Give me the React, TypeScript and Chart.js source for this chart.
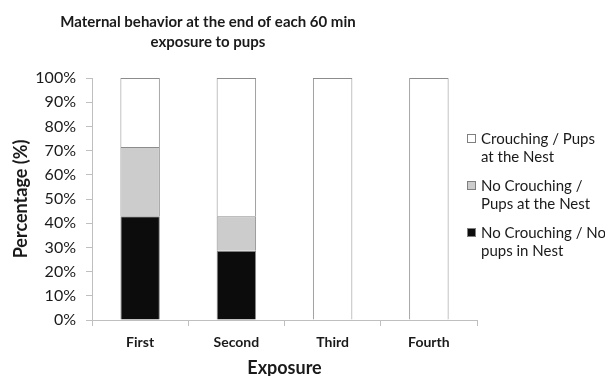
import React, { useEffect, useRef } from "react";
import { Chart, registerables } from "chart.js";

Chart.register(...registerables);

const TITLE_LINES = ["Maternal behavior at the end of each 60 min", "exposure to pups"];
const CATEGORIES = ["First", "Second", "Third", "Fourth"];
const NO_CROUCH_NO_PUPS = [42.9, 28.6, 0, 0];
const NO_CROUCH_PUPS = [28.6, 14.3, 0, 0];
const CROUCH_PUPS = [28.5, 57.1, 100, 100];
const SERIES_LABELS = [
  ["No Crouching / No", "pups in Nest"],
  ["No Crouching /", "Pups at the Nest"],
  ["Crouching / Pups", "at the Nest"],
];
const Y_TICKS_STEP = 10;
const X_TITLE = "Exposure";
const Y_TITLE = "Percentage (%)";

const FONT = "Lato, 'Open Sans', sans-serif";
const TEXT = "#1a1a1a";

const titlePlugin = {
  id: "customTitle",
  afterDraw(chart: any) {
    const ctx = chart.ctx;
    ctx.save();
    ctx.fillStyle = TEXT;
    ctx.font = `bold 15px ${FONT}`;
    ctx.textAlign = "center";
    ctx.textBaseline = "alphabetic";
    const cx = 208;
    TITLE_LINES.forEach((line, i) => {
      ctx.fillText(line, cx, 27 + i * 20);
    });
    ctx.restore();
  },
};

const legendPlugin = {
  id: "customLegend",
  afterDraw(chart: any) {
    const ctx = chart.ctx;
    const datasets = chart.data.datasets;
    ctx.save();
    ctx.font = `15px ${FONT}`;
    ctx.textBaseline = "middle";
    ctx.textAlign = "left";
    const boxX = 467;
    const textX = 481;
    let y = 139;
    for (let i = datasets.length - 1; i >= 0; i--) {
      const ds = datasets[i];
      ctx.fillStyle = ds.backgroundColor;
      ctx.fillRect(boxX + 0.5, y - 4.5, 8, 8);
      ctx.strokeStyle = "#7f7f7f";
      ctx.lineWidth = 1;
      ctx.strokeRect(boxX + 0.5, y - 4.5, 8, 8);
      ctx.fillStyle = TEXT;
      const lines: string[] = ds.label.split("\n");
      lines.forEach((ln, j) => ctx.fillText(ln, textX, y + j * 18));
      y += 47;
    }
    ctx.restore();
  },
};

export default function App() {
  const ref = useRef<HTMLCanvasElement | null>(null);
  useEffect(() => {
    document.body.style.margin = "0";
    const canvas = ref.current!;
    const colors = ["#0c0c0c", "#cccccc", "#ffffff"];
    const values = [NO_CROUCH_NO_PUPS, NO_CROUCH_PUPS, CROUCH_PUPS];
    const chart = new Chart(canvas, {
      type: "bar",
      data: {
        labels: CATEGORIES,
        datasets: values.map((v, i) => ({
          label: SERIES_LABELS[i].join("\n"),
          data: v,
          backgroundColor: colors[i],
          borderColor: "#8c8c8c",
          borderWidth: 1,
          barPercentage: 0.41,
          categoryPercentage: 1,
        })),
      },
      options: {
        responsive: false,
        animation: false,
        layout: { padding: { top: 78, right: 128, left: 0, bottom: 0 } },
        plugins: {
          legend: { display: false },
          title: { display: false },
          tooltip: { enabled: false },
        },
        scales: {
          x: {
            stacked: true,
            afterFit(scale: any) {
              scale.height = 56;
            },
            grid: {
              drawOnChartArea: false,
              drawTicks: true,
              tickLength: 6,
              color: "#bfbfbf",
            },
            border: { color: "#bfbfbf" },
            ticks: {
              padding: 8,
              color: TEXT,
              font: { family: FONT, size: 14, weight: "bold" },
            },
            title: {
              display: true,
              text: X_TITLE,
              color: TEXT,
              font: { family: FONT, size: 18, weight: "bold" },
              padding: { top: 2, bottom: -3 },
            },
          },
          y: {
            stacked: true,
            min: 0,
            max: 100,
            afterFit(scale: any) {
              scale.width = 92;
            },
            grid: {
              drawOnChartArea: false,
              drawTicks: true,
              tickLength: 6,
              color: "#bfbfbf",
            },
            border: { color: "#bfbfbf" },
            ticks: {
              stepSize: Y_TICKS_STEP,
              padding: 10,
              color: TEXT,
              font: { family: FONT, size: 16 },
              callback: (v: any) => `${v}%`,
            },
            title: {
              display: true,
              text: Y_TITLE,
              color: TEXT,
              font: { family: FONT, size: 18, weight: "bold" },
              padding: { top: 10, bottom: 0 },
            },
          },
        },
      },
      plugins: [titlePlugin, legendPlugin],
    });
    return () => chart.destroy();
  }, []);
  return <canvas ref={ref} width={605} height={376} style={{ display: "block" }} />;
}
